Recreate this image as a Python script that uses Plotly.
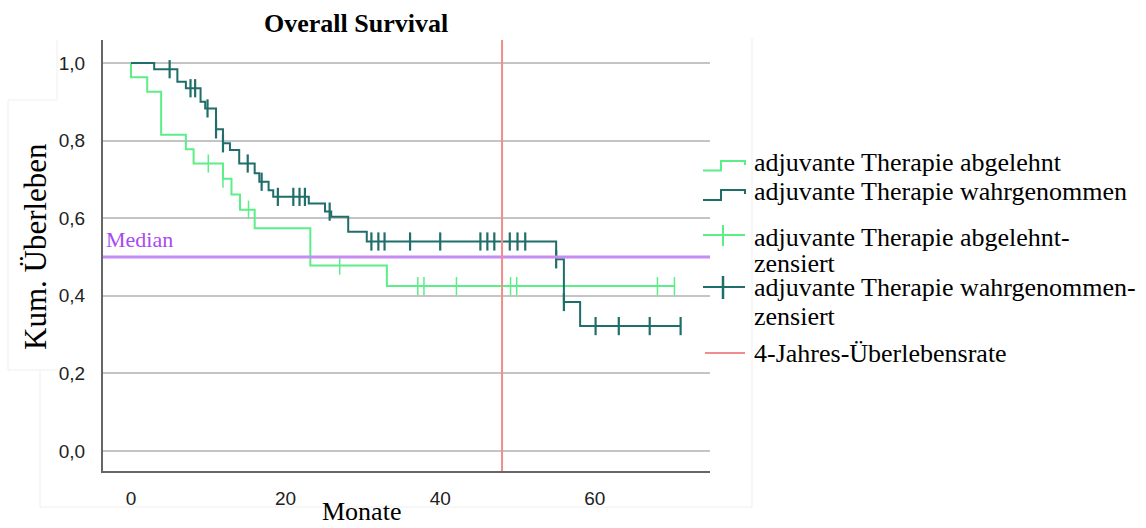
import numpy as np
import plotly.graph_objects as go

# ---- Kaplan-Meier data (months, cumulative survival) ----
abgelehnt_t = [0, 0, 2.1, 3.9, 7.1, 8.1, 11.9, 13.0, 14.1, 16.0, 23.2, 33.1]
abgelehnt_s = [1.0, 0.963, 0.926, 0.815, 0.778, 0.741, 0.702, 0.661, 0.622, 0.574, 0.478, 0.425]
abgelehnt_zensiert = [10.0, 11.9, 15.2, 27.0, 37.1, 37.9, 42.1, 49.1, 49.9, 68.1, 70.3]

wahrgenommen_t = [0, 3.0, 6.0, 7.1, 9.0, 9.6, 11.0, 11.9, 12.8, 14.0, 16.0, 16.6, 17.8,
                  18.4, 23.0, 25.1, 25.9, 28.1, 30.5, 55.0, 56.0, 58.1]
wahrgenommen_s = [1.0, 0.984, 0.952, 0.935, 0.900, 0.883, 0.829, 0.793, 0.776, 0.741, 0.716,
                  0.694, 0.672, 0.655, 0.638, 0.617, 0.604, 0.565, 0.540, 0.494, 0.384, 0.322]
wahrgenommen_zensiert = [5.0, 7.7, 8.3, 9.9, 11.0, 11.9, 15.1, 16.9, 19.0, 21.0, 21.8, 22.5,
                         25.7, 31.1, 32.0, 32.8, 36.1, 40.0, 45.2, 46.1, 47.0, 49.0, 50.0,
                         51.0, 55.0, 56.0, 60.1, 63.1, 67.1, 71.1]

median_level = 0.5
vier_jahre_monate = 48

y_tickvals = [0.0, 0.2, 0.4, 0.6, 0.8, 1.0]
y_ticktext = ["0,0", "0,2", "0,4", "0,6", "0,8", "1,0"]
x_tickvals = [0, 20, 40, 60]

legend_labels = [
    "adjuvante Therapie abgelehnt",
    "adjuvante Therapie wahrgenommen",
    "adjuvante Therapie abgelehnt-",
    "zensiert",
    "adjuvante Therapie wahrgenommen-",
    "zensiert",
    "4-Jahres-Überlebensrate",
]

GREEN = "#5cee88"
TEAL = "#1f6e6a"
RED = "#f28b8b"
PURPLE_LINE = "#c68cf2"
PURPLE_TEXT = "#a64bf4"
SERIF = "Liberation Serif"
SANS = "Liberation Sans"

# ---- canvas geometry ----
W, H = 1146, 528
ML, MR, MT, MB = 103, 436, 40, 57
PW, PH = W - ML - MR, H - MT - MB


def px(x):
    return (x - ML) / PW


def py(y):
    return (H - MB - y) / PH


def step_value(t_steps, s_steps, t):
    i = np.searchsorted(np.asarray(t_steps), t, side="right") - 1
    return s_steps[i]


def curve(t_steps, s_steps, t_end):
    xs = list(t_steps) + [t_end]
    ys = list(s_steps) + [s_steps[-1]]
    return xs, ys


fig = go.Figure()

for t_steps, s_steps, cens, color, mw in [
    (abgelehnt_t, abgelehnt_s, abgelehnt_zensiert, GREEN, 1.5),
    (wahrgenommen_t, wahrgenommen_s, wahrgenommen_zensiert, TEAL, 2.2),
]:
    xs, ys = curve(t_steps, s_steps, max(cens))
    fig.add_trace(go.Scatter(
        x=xs, y=ys, mode="lines", line=dict(color=color, width=2, shape="hv"),
        showlegend=False, hoverinfo="skip"))
    fig.add_trace(go.Scatter(
        x=cens, y=[step_value(t_steps, s_steps, c) for c in cens], mode="markers",
        marker=dict(symbol="line-ns-open", size=13, color=color,
                    line=dict(color=color, width=mw)),
        showlegend=False, hoverinfo="skip"))

shapes = []
# median and 4-year reference lines
shapes.append(dict(type="line", xref="paper", yref="y", x0=0, x1=1,
                   y0=median_level, y1=median_level,
                   line=dict(color=PURPLE_LINE, width=3)))
shapes.append(dict(type="line", xref="x", yref="paper", x0=vier_jahre_monate,
                   x1=vier_jahre_monate, y0=0, y1=1, line=dict(color=RED, width=2)))


def pline(points, color, width):
    path = "M " + " L ".join(f"{px(x):.5f},{py(y):.5f}" for x, y in points)
    return dict(type="path", xref="paper", yref="paper", path=path,
                line=dict(color=color, width=width))


# legend symbols
shapes.append(pline([(703, 170.5), (721, 170.5), (721, 161), (745, 161), (745, 165)], GREEN, 2))
shapes.append(pline([(703, 200), (721, 200), (721, 190), (745, 190), (745, 194)], TEAL, 2))
shapes.append(pline([(703, 235), (745, 235)], GREEN, 2))
shapes.append(pline([(723, 225), (723, 246)], GREEN, 2))
shapes.append(pline([(703, 287), (745, 287)], TEAL, 2))
shapes.append(pline([(723, 276), (723, 299)], TEAL, 2.5))
shapes.append(pline([(705, 353), (745, 353)], RED, 2))

# faint panel borders
FAINT = "#efefef"
shapes.append(pline([(40, 370), (40, 507), (752, 507), (752, 38)], FAINT, 1))
shapes.append(pline([(8, 100), (57, 100)], FAINT, 1))
shapes.append(pline([(8, 100), (8, 370), (57, 370)], FAINT, 1))
shapes.append(pline([(57, 40), (57, 100)], FAINT, 1))

annotations = []


def text(x, y, s, size, color="#000000", xanchor="center", yanchor="middle",
         family=SERIF, angle=0):
    annotations.append(dict(x=px(x), y=py(y), xref="paper", yref="paper", text=s,
                            showarrow=False, xanchor=xanchor, yanchor=yanchor,
                            textangle=angle,
                            font=dict(family=family, size=size, color=color)))


text(355.5, 23, "<b>Overall Survival</b>", 26)
text(361, 528, "Monate", 26, yanchor="bottom")
text(35, 247, "Kum. Überleben", 31, angle=-90)
text(104, 239, "Median", 22, color=PURPLE_TEXT, xanchor="left")

legend_y = [162, 191.5, 237.5, 263, 287, 316.5, 353]
for lab, ly in zip(legend_labels, legend_y):
    text(752, ly, lab, 26, xanchor="left")

fig.update_layout(
    width=W, height=H,
    margin=dict(l=ML, r=MR, t=MT, b=MB, pad=0),
    plot_bgcolor="white", paper_bgcolor="white",
    shapes=shapes, annotations=annotations,
    showlegend=False,
    xaxis=dict(range=[-3.62, 74.9], tickvals=x_tickvals, showgrid=False,
               zeroline=False, showline=True, linecolor="#666666", linewidth=2,
               ticks="", ticklabelstandoff=9,
               tickfont=dict(family=SANS, size=19, color="#222222")),
    yaxis=dict(range=[-0.0515, 1.0593], tickvals=y_tickvals, ticktext=y_ticktext,
               showgrid=True, gridcolor="#c4c4c4", gridwidth=2, zeroline=False,
               showline=True, linecolor="#666666", linewidth=2, ticks="",
               ticklabelstandoff=12,
               tickfont=dict(family=SANS, size=19, color="#222222")),
)

fig.write_html("out.html")
